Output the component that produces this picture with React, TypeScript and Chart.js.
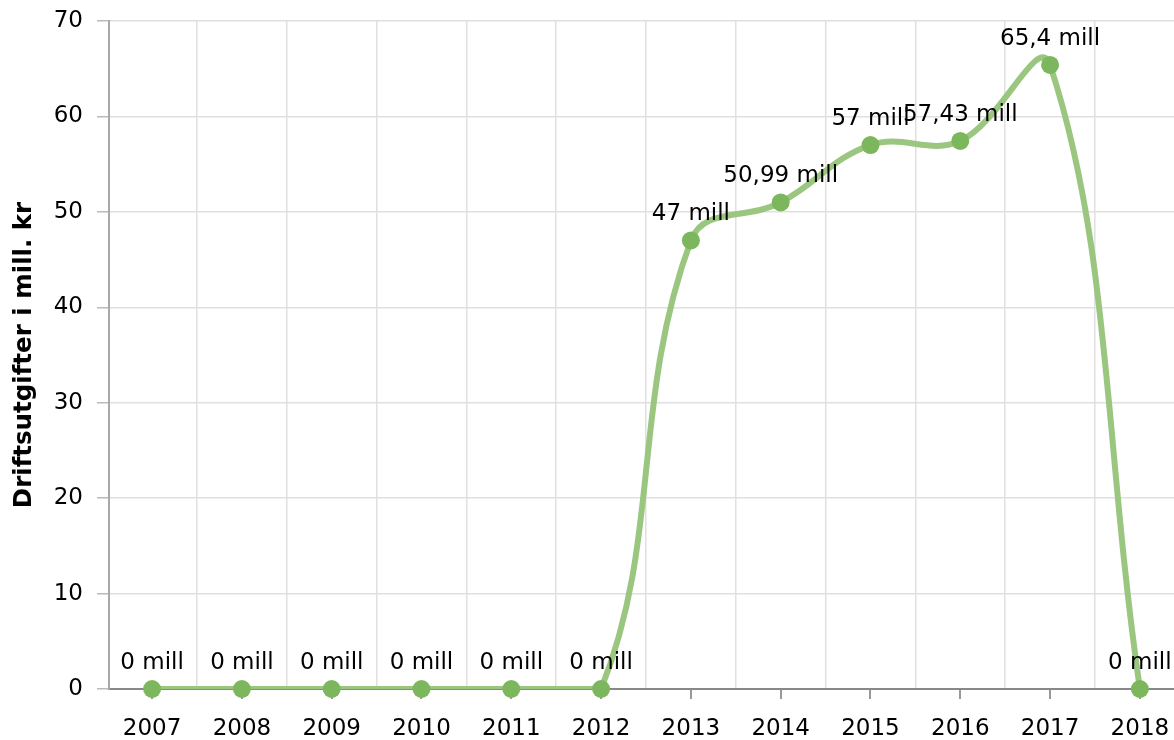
import React, { useEffect, useRef } from 'react';
import { Chart, registerables } from 'chart.js';

Chart.register(...registerables);

const YEARS = [2007, 2008, 2009, 2010, 2011, 2012, 2013, 2014, 2015, 2016, 2017, 2018];
const YEAR_LABELS = ['2007', '2008', '2009', '2010', '2011', '2012', '2013', '2014', '2015', '2016', '2017', '2018'];
const COSTS = [0, 0, 0, 0, 0, 0, 47, 50.99, 57, 57.43, 65.4, 0];
const VALUE_LABELS = ['0 mill', '0 mill', '0 mill', '0 mill', '0 mill', '0 mill', '47 mill', '50,99 mill', '57 mill', '57,43 mill', '65,4 mill', '0 mill'];
const Y_TICKS = [0, 10, 20, 30, 40, 50, 60, 70];
const Y_TITLE = 'Driftsutgifter i mill. kr';

const FONT = 'DejaVu Sans';
const X_MIN = 2006.52;
const X_MAX = 2018.38;

const valueLabels = {
  id: 'valueLabels',
  afterDatasetsDraw(chart: any) {
    const meta = chart.getDatasetMeta(0);
    const ctx = chart.ctx;
    ctx.save();
    ctx.font = `23px "${FONT}"`;
    ctx.fillStyle = '#000';
    ctx.textAlign = 'center';
    ctx.textBaseline = 'alphabetic';
    meta.data.forEach((pt: any, i: number) => {
      ctx.fillText(VALUE_LABELS[i], pt.x, pt.y - 20);
    });
    ctx.restore();
  },
};

const zeroPad = (scale: any) => {
  scale.paddingLeft = 0;
  scale.paddingRight = 0;
  scale.paddingTop = 0;
  scale.paddingBottom = 0;
};

export default function App() {
  const ref = useRef<HTMLCanvasElement | null>(null);

  useEffect(() => {
    if (!ref.current) return;
    Chart.defaults.font.family = FONT;
    const points = YEARS.map((y, i) => ({ x: y, y: COSTS[i] }));
    const chart = new Chart(ref.current, {
      type: 'line',
      data: {
        datasets: [
          {
            data: points,
            showLine: false,
            pointRadius: 9,
            pointHoverRadius: 9,
            pointBackgroundColor: '#7db75d',
            pointBorderWidth: 0,
            clip: false as any,
          },
          {
            data: points,
            borderColor: '#9bc67f',
            borderWidth: 6,
            tension: 0.4,
            pointRadius: 0,
            fill: false,
          },
        ],
      },
      options: {
        responsive: false,
        animation: false,
        layout: { autoPadding: false, padding: { top: 21, left: 0, right: 0, bottom: 0 } },
        plugins: {
          legend: { display: false },
          tooltip: { enabled: false },
        },
        scales: {
          x: {
            type: 'linear',
            position: 'bottom',
            min: X_MIN,
            max: X_MAX,
            afterBuildTicks: (scale: any) => {
              scale.ticks = YEARS.map((v) => ({ value: v }));
            },
            afterFit: (scale: any) => {
              scale.height = 51;
              zeroPad(scale);
            },
            ticks: {
              autoSkip: false,
              maxRotation: 0,
              color: '#000',
              font: { size: 23, lineHeight: 2.26 },
              padding: 4,
              callback: (_v: any, i: number) => YEAR_LABELS[i],
            },
            grid: {
              drawOnChartArea: false,
              drawTicks: true,
              tickLength: 10,
              color: '#999',
              lineWidth: 2,
            },
            border: { display: true, color: '#888', width: 2 },
          },
          x2: {
            type: 'linear',
            position: 'top',
            min: X_MIN,
            max: X_MAX,
            afterBuildTicks: (scale: any) => {
              scale.ticks = YEARS.slice(0, -1).map((v) => ({ value: v + 0.5 }));
            },
            afterFit: (scale: any) => {
              scale.height = 0;
              zeroPad(scale);
            },
            ticks: { display: false },
            grid: { drawTicks: false, color: '#e0e0e0', lineWidth: 1.5 },
            border: { display: false },
          },
          y: {
            type: 'linear',
            position: 'left',
            min: 0,
            max: 70,
            afterBuildTicks: (scale: any) => {
              scale.ticks = Y_TICKS.map((v) => ({ value: v }));
            },
            afterFit: (scale: any) => {
              scale.width = 109;
              zeroPad(scale);
            },
            ticks: {
              color: '#000',
              font: { size: 23 },
              padding: 14,
              callback: (v: any) => String(v),
            },
            grid: {
              color: '#e0e0e0',
              tickColor: '#bbb',
              tickLength: 12,
              lineWidth: 1.5,
            },
            border: { display: true, color: '#a8a8a8', width: 2 },
            title: {
              display: true,
              text: Y_TITLE,
              color: '#000',
              font: { size: 24.5, weight: 'bold' },
              padding: { top: 10, bottom: 0 },
            },
          },
        },
      },
      plugins: [valueLabels],
    });
    return () => chart.destroy();
  }, []);

  return (
    <div style={{ position: 'absolute', left: 0, top: 0, width: 1174, height: 740, background: '#fff' }}>
      <canvas ref={ref} width={1174} height={740} style={{ display: 'block', width: 1174, height: 740 }} />
    </div>
  );
}
